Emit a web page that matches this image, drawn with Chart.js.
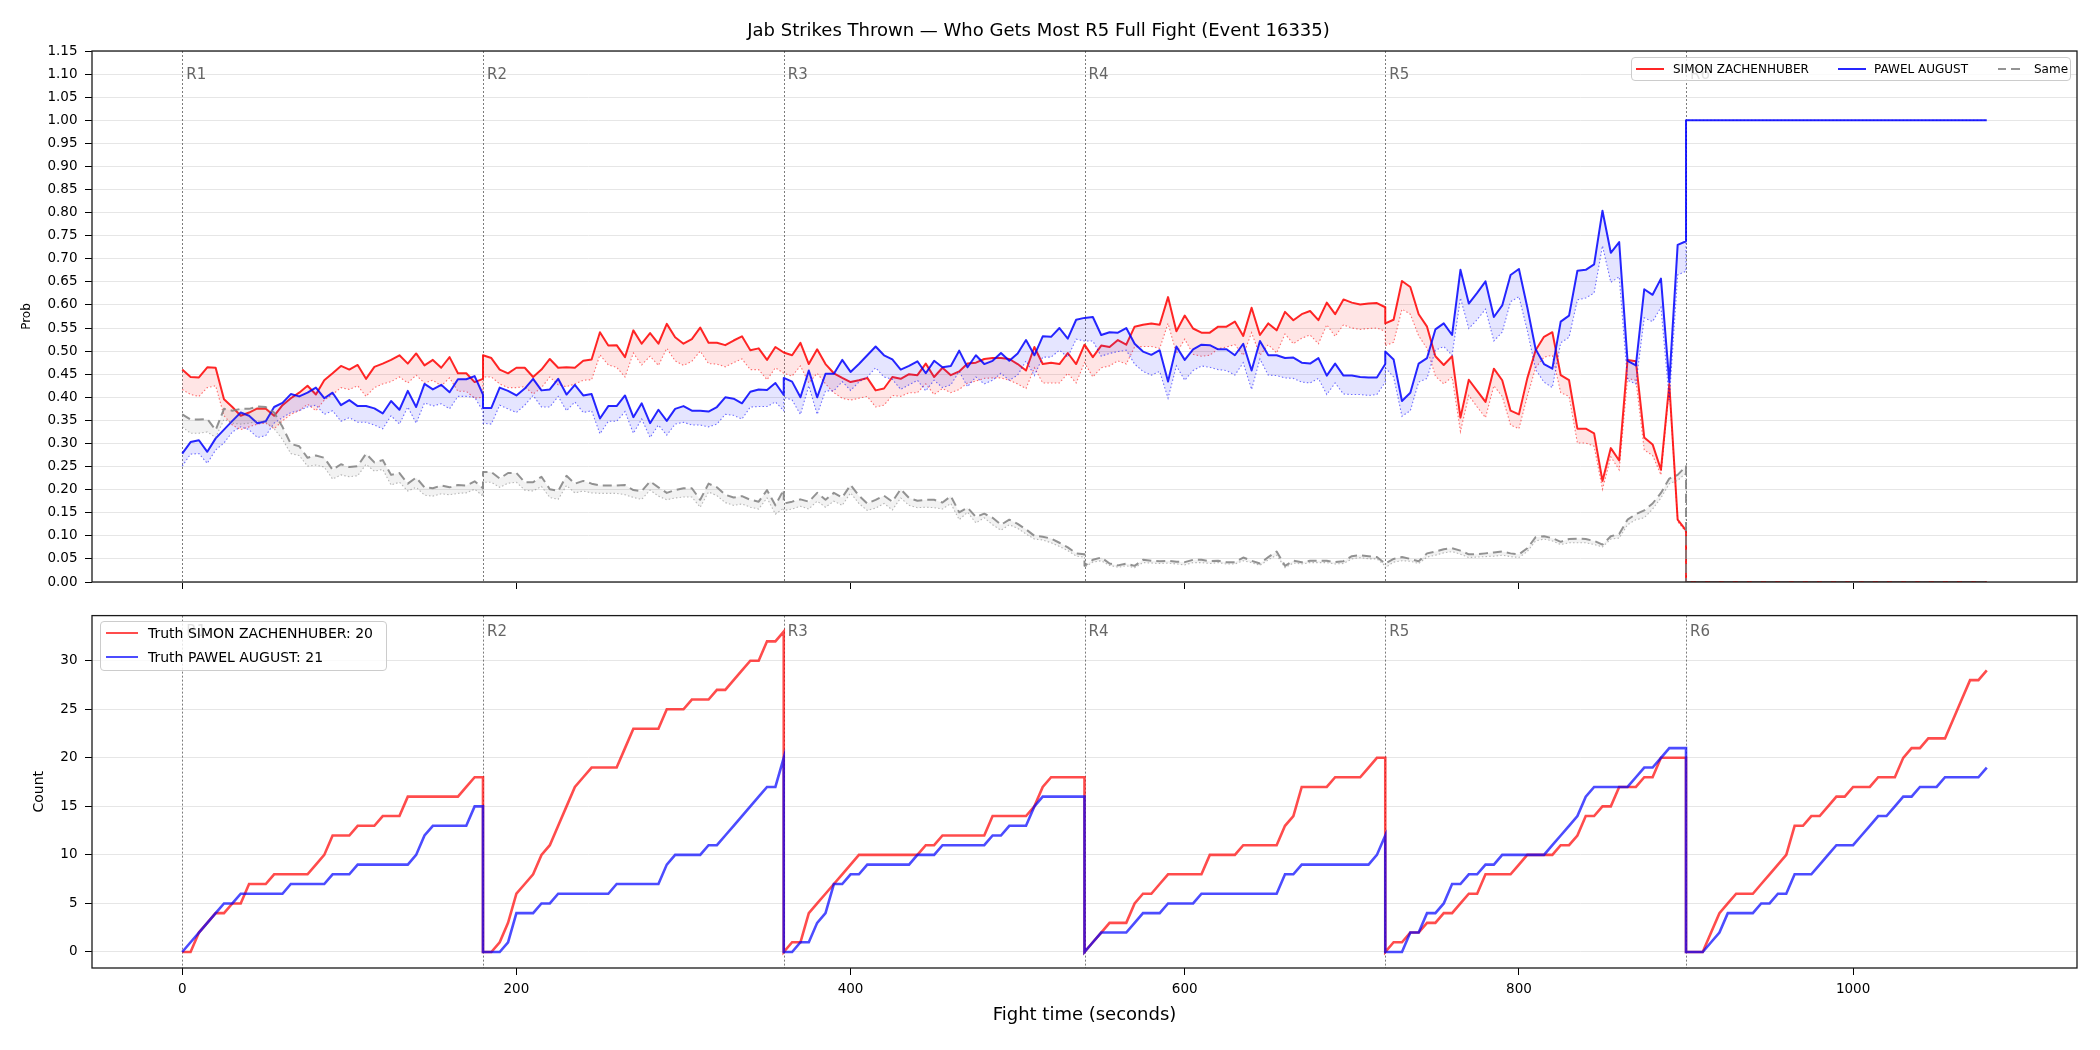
<!DOCTYPE html>
<html><head><meta charset="utf-8">
<script src="https://cdn.jsdelivr.net/npm/chart.js@4.4.1/dist/chart.umd.min.js"></script>
<style>
html,body{margin:0;padding:0;background:#fff;}
body{width:2100px;height:1050px;position:relative;overflow:hidden;font-family:'DejaVu Sans',sans-serif;}
#c1{position:absolute;left:0;top:0;}
#c2{position:absolute;left:0;top:600px;}
.leg{position:absolute;background:rgba(255,255,255,0.8);border:1px solid #cccccc;border-radius:4px;box-sizing:border-box;}
.leg .ln{position:absolute;height:0;}
.leg .tx{position:absolute;white-space:nowrap;color:#000;line-height:1;transform:translateY(-50%);}
</style></head>
<body>
<canvas id="c1" width="2100" height="600"></canvas>
<canvas id="c2" width="2100" height="450"></canvas>
<div id="leg1" class="leg"></div>
<div id="leg2" class="leg"></div>
<script>
// ---------------- DATA ----------------
const chartTitle = 'Jab Strikes Thrown \u2014 Who Gets Most R5 Full Fight (Event 16335)';
const fighterNames = ['SIMON ZACHENHUBER', 'PAWEL AUGUST'];
const sameName = 'Same';
const truthTotals = [20, 21];
const roundStarts = [0, 180, 360, 540, 720, 900];
const roundLabels = ['R1', 'R2', 'R3', 'R4', 'R5', 'R6'];
const xTickValues = [0, 200, 400, 600, 800, 1000];
const probTickValues = [0.00,0.05,0.10,0.15,0.20,0.25,0.30,0.35,0.40,0.45,0.50,0.55,0.60,0.65,0.70,0.75,0.80,0.85,0.90,0.95,1.00,1.05,1.10,1.15];
const countTickValues = [0, 5, 10, 15, 20, 25, 30];

const tR1 = [0,5,10,15,20,25,30,35,40,45,50,55,60,65,70,75,80,85,90,95,100,105,110,115,120,125,130,135,140,145,150,155,160,165,170,175,180];
const tR2 = [180,185,190,195,200,205,210,215,220,225,230,235,240,245,250,255,260,265,270,275,280,285,290,295,300,305,310,315,320,325,330,335,340,345,350,355,360];
const tR3 = [360,365,370,375,380,385,390,395,400,405,410,415,420,425,430,435,440,445,450,455,460,465,470,475,480,485,490,495,500,505,510,515,520,525,530,535,540];
const tR4 = [540,545,550,555,560,565,570,575,580,585,590,595,600,605,610,615,620,625,630,635,640,645,650,655,660,665,670,675,680,685,690,695,700,705,710,715,720];
const tR5 = [720,725,730,735,740,745,750,755,760,765,770,775,780,785,790,795,800,805,810,815,820,825,830,835,840,845,850,855,860,865,870,875,880,885,890,895,900];
const tR6 = [900,905,910,915,920,925,930,935,940,945,950,955,960,965,970,975,980,985,990,995,1000,1005,1010,1015,1020,1025,1030,1035,1040,1045,1050,1055,1060,1065,1070,1075,1080];
const probTime = [...tR1, ...tR2, ...tR3, ...tR4, ...tR5, 900, 1080];
const countTime = [...tR1, ...tR2, ...tR3, ...tR4, ...tR5, ...tR6];

const redProb = [
 .460,.444,.443,.465,.464,.396,.379,.360,.367,.376,.375,.360,.383,.398,.410,.425,.406,.437,.452,.468,.460,.470,.440,.466,.473,.481,.491,.473,.495,.469,.481,.464,.487,.452,.452,.433,.440,
 .491,.485,.460,.452,.464,.464,.444,.460,.483,.464,.465,.464,.479,.482,.541,.512,.513,.487,.545,.516,.539,.516,.559,.530,.516,.526,.551,.518,.518,.513,.523,.532,.502,.506,.481,.509,.497,
 .497,.491,.518,.472,.504,.472,.452,.442,.433,.437,.442,.415,.419,.444,.440,.450,.448,.473,.444,.464,.448,.456,.473,.475,.483,.485,.485,.483,.472,.458,.509,.472,.475,.472,.496,.472,.514,
 .514,.487,.512,.509,.524,.514,.553,.557,.560,.557,.617,.543,.577,.549,.540,.540,.553,.553,.564,.533,.594,.535,.560,.545,.585,.567,.580,.587,.567,.605,.580,.612,.605,.601,.603,.604,.595,
 .560,.568,.652,.639,.580,.553,.489,.470,.489,.356,.438,.414,.390,.462,.437,.371,.363,.441,.502,.531,.541,.448,.437,.332,.332,.322,.219,.290,.263,.481,.478,.313,.298,.243,.429,.135,.112,
 0, 0];
const redProbLow = [
 .417,.406,.402,.421,.425,.360,.340,.330,.336,.342,.344,.332,.349,.363,.371,.385,.371,.394,.406,.421,.417,.425,.402,.421,.429,.434,.444,.431,.448,.431,.437,.425,.442,.413,.413,.398,.400,
 .444,.444,.429,.421,.421,.423,.407,.421,.444,.427,.423,.429,.437,.438,.492,.470,.465,.444,.496,.470,.489,.469,.506,.479,.469,.478,.500,.473,.472,.466,.475,.483,.460,.460,.438,.464,.452,
 .452,.446,.468,.431,.452,.429,.410,.398,.394,.398,.402,.379,.383,.404,.402,.410,.410,.429,.406,.419,.410,.417,.431,.435,.441,.442,.442,.437,.429,.419,.464,.431,.431,.431,.452,.431,.475,
 .475,.444,.464,.468,.479,.472,.509,.510,.510,.506,.560,.495,.526,.493,.489,.491,.505,.509,.514,.491,.540,.491,.514,.496,.537,.516,.528,.535,.516,.557,.532,.557,.550,.547,.549,.550,.543,
 .512,.519,.591,.580,.533,.506,.446,.429,.444,.326,.404,.379,.356,.425,.402,.340,.332,.402,.464,.487,.491,.410,.402,.301,.301,.294,.201,.271,.243,.441,.437,.286,.274,.232,.421,.131,.108,
 0, 0];
const blueProb = [
 .278,.303,.307,.282,.311,.330,.349,.367,.360,.344,.348,.379,.388,.407,.402,.410,.421,.398,.410,.383,.394,.381,.381,.376,.365,.392,.373,.414,.379,.429,.417,.427,.411,.439,.439,.446,.406,
 .377,.377,.421,.414,.404,.419,.440,.415,.417,.440,.406,.427,.404,.407,.354,.381,.381,.404,.357,.387,.344,.373,.349,.375,.381,.371,.371,.369,.379,.400,.397,.387,.412,.417,.416,.431,.405,
 .442,.434,.400,.458,.400,.451,.451,.481,.455,.472,.491,.510,.491,.482,.460,.468,.478,.452,.479,.465,.468,.501,.465,.491,.472,.479,.496,.479,.495,.524,.491,.532,.531,.550,.527,.568,.572,
 .572,.574,.535,.541,.540,.550,.516,.499,.492,.502,.434,.510,.481,.504,.514,.513,.504,.504,.491,.516,.458,.522,.491,.491,.485,.486,.475,.473,.485,.447,.473,.447,.447,.444,.443,.443,.472,
 .499,.482,.392,.410,.473,.485,.547,.560,.535,.676,.603,.626,.651,.574,.599,.665,.678,.595,.504,.472,.462,.564,.577,.674,.676,.688,.804,.713,.736,.479,.469,.634,.622,.657,.433,.730,.738,
 1, 1];
const blueProbLow = [
 .251,.277,.278,.257,.286,.301,.325,.336,.330,.313,.317,.344,.356,.367,.371,.379,.383,.363,.371,.348,.356,.346,.346,.340,.332,.360,.342,.379,.344,.388,.381,.386,.375,.402,.402,.400,.370,
 .344,.342,.383,.375,.367,.383,.404,.379,.379,.402,.371,.390,.367,.371,.321,.348,.348,.369,.322,.353,.313,.340,.318,.342,.346,.340,.340,.336,.342,.363,.361,.353,.379,.380,.380,.390,.371,
 .400,.394,.363,.425,.363,.414,.414,.434,.415,.433,.444,.464,.444,.439,.417,.427,.437,.414,.437,.421,.427,.456,.423,.444,.429,.437,.452,.437,.448,.479,.447,.487,.487,.502,.487,.526,.522,
 .522,.522,.489,.495,.499,.502,.472,.456,.448,.456,.398,.468,.437,.458,.468,.465,.460,.458,.448,.475,.417,.483,.448,.447,.442,.441,.433,.431,.441,.406,.431,.407,.406,.406,.404,.406,.433,
 .464,.444,.359,.371,.433,.441,.502,.510,.491,.615,.549,.568,.591,.522,.541,.607,.618,.545,.460,.433,.421,.518,.530,.611,.615,.626,.728,.649,.661,.437,.429,.572,.564,.595,.394,.665,.673,
 1, 1];
const sameProb = [
 .363,.352,.352,.353,.329,.375,.371,.375,.375,.380,.379,.367,.336,.299,.294,.269,.274,.269,.243,.255,.249,.251,.278,.259,.264,.232,.236,.213,.226,.205,.203,.209,.205,.210,.209,.218,.203,
 .238,.238,.224,.236,.236,.216,.216,.228,.201,.197,.230,.213,.219,.213,.209,.209,.209,.210,.199,.197,.218,.205,.193,.199,.203,.203,.178,.213,.205,.189,.183,.186,.178,.174,.199,.166,.200,
 .170,.174,.179,.174,.193,.178,.193,.183,.210,.187,.170,.178,.187,.174,.201,.182,.176,.178,.178,.172,.186,.151,.161,.141,.148,.139,.124,.135,.126,.114,.100,.098,.094,.085,.075,.062,.060,
 .035,.048,.053,.040,.036,.040,.035,.048,.046,.045,.046,.044,.043,.048,.048,.045,.046,.043,.043,.053,.046,.040,.054,.066,.035,.046,.043,.046,.046,.046,.043,.045,.056,.058,.056,.054,.040,
 .040,.050,.054,.050,.045,.062,.066,.071,.073,.068,.060,.060,.062,.064,.066,.062,.060,.073,.097,.099,.095,.087,.093,.094,.093,.089,.081,.099,.104,.135,.147,.155,.170,.193,.224,.232,.251,
 0, 0];
const sameProbLow = [
 .336,.322,.322,.325,.313,.352,.344,.342,.344,.348,.346,.332,.309,.278,.274,.251,.253,.249,.223,.232,.228,.230,.255,.240,.244,.210,.216,.197,.205,.188,.186,.191,.189,.192,.193,.201,.186,
 .216,.216,.205,.214,.216,.199,.197,.207,.183,.179,.209,.193,.197,.193,.192,.192,.192,.189,.183,.179,.199,.186,.178,.182,.184,.184,.162,.195,.187,.172,.166,.169,.162,.158,.182,.147,.160,
 .155,.158,.164,.158,.175,.162,.175,.166,.193,.170,.155,.160,.170,.156,.182,.166,.161,.162,.161,.158,.170,.135,.151,.128,.139,.124,.112,.124,.116,.104,.093,.091,.085,.077,.068,.056,.054,
 .032,.043,.046,.036,.032,.035,.031,.042,.041,.040,.041,.039,.037,.042,.042,.040,.042,.039,.039,.046,.042,.036,.048,.058,.031,.041,.039,.042,.042,.042,.039,.040,.050,.053,.050,.050,.035,
 .031,.043,.046,.045,.040,.054,.058,.063,.066,.060,.053,.054,.055,.056,.058,.055,.053,.066,.089,.093,.089,.081,.085,.085,.085,.081,.076,.093,.095,.124,.135,.139,.158,.182,.213,.220,.236,
 0, 0];

const redCount = [
 0,0,2,3,4,4,5,5,7,7,7,8,8,8,8,8,9,10,12,12,12,13,13,13,14,14,14,16,16,16,16,16,16,16,17,18,18,
 0,0,1,3,6,7,8,10,11,13,15,17,18,19,19,19,19,21,23,23,23,23,25,25,25,26,26,26,27,27,28,29,30,30,32,32,33,
 0,1,1,4,5,6,7,8,9,10,10,10,10,10,10,10,10,11,11,12,12,12,12,12,12,14,14,14,14,14,15,17,18,18,18,18,18,
 0,1,2,3,3,3,5,6,6,7,8,8,8,8,8,10,10,10,10,11,11,11,11,11,13,14,17,17,17,17,18,18,18,18,19,20,20,
 0,1,1,2,2,3,3,4,4,5,6,6,8,8,8,8,9,10,10,10,10,11,11,12,14,14,15,15,17,17,17,18,18,20,20,20,20,
 0,0,0,2,4,5,6,6,6,7,8,9,10,13,13,14,14,15,16,16,17,17,17,18,18,18,20,21,21,22,22,22,24,26,28,28,29];
const blueCount = [
 0,1,2,3,4,5,5,6,6,6,6,6,6,7,7,7,7,7,8,8,8,9,9,9,9,9,9,9,10,12,13,13,13,13,13,15,15,
 0,0,0,1,4,4,4,5,5,6,6,6,6,6,6,6,7,7,7,7,7,7,9,10,10,10,10,11,11,12,13,14,15,16,17,17,20,
 0,0,1,1,3,4,7,7,8,8,9,9,9,9,9,9,10,10,10,11,11,11,11,11,11,12,12,13,13,13,15,16,16,16,16,16,16,
 0,1,2,2,2,2,3,4,4,4,5,5,5,5,6,6,6,6,6,6,6,6,6,6,8,8,9,9,9,9,9,9,9,9,9,10,12,
 0,0,0,2,2,4,4,5,7,7,8,8,9,9,10,10,10,10,10,10,11,12,13,14,16,17,17,17,17,17,18,19,19,20,21,21,21,
 0,0,0,1,2,4,4,4,4,5,5,6,6,8,8,8,9,10,11,11,11,12,13,14,14,15,16,16,17,17,17,18,18,18,18,18,19];

// ---------------- STYLE ----------------
const RED = 'rgba(255,0,0,0.85)', BLUE = 'rgba(0,0,255,0.85)', GRAY = 'rgba(128,128,128,0.85)';
const FONT = "'DejaVu Sans', sans-serif";
Chart.defaults.font.family = FONT;
Chart.defaults.color = '#000';

const pts = (xs, ys) => xs.map((t, i) => ({x: t, y: ys[i]}));

const roundPlugin = {
  id: 'rounds',
  beforeDatasetsDraw(chart, args, opts) {
    const {ctx, chartArea: a, scales: {x}} = chart;
    ctx.save();
    ctx.strokeStyle = 'rgba(80,80,80,0.75)';
    ctx.lineWidth = 1;
    ctx.setLineDash([2, 2]);
    roundStarts.forEach(t => {
      const px = Math.round(x.getPixelForValue(t)) + 0.5;
      ctx.beginPath(); ctx.moveTo(px, a.top); ctx.lineTo(px, a.bottom); ctx.stroke();
    });
    ctx.setLineDash([]);
    ctx.fillStyle = '#666666';
    ctx.font = '15px ' + FONT;
    ctx.textBaseline = 'middle';
    ctx.textAlign = 'left';
    roundStarts.forEach((t, i) => ctx.fillText(roundLabels[i], x.getPixelForValue(t) + 4, a.top + opts.labelOffset));
    ctx.restore();
  },
  afterDraw(chart) {
    const {ctx, chartArea: a} = chart;
    ctx.save();
    ctx.strokeStyle = '#1a1a1a';
    ctx.lineWidth = 1.3;
    ctx.strokeRect(a.left, a.top, a.right - a.left, a.bottom - a.top);
    ctx.restore();
  }
};

const mainLine = (label, data, color, order, dash) => ({
  label, data, borderColor: color, borderWidth: 2, pointRadius: 0, tension: 0, fill: false,
  borderDash: dash || [], order, borderJoinStyle: 'round'
});
const lowLine = (label, data, color, fillColor, order) => ({
  label, data, borderColor: color, borderWidth: 1.1, pointRadius: 0, tension: 0,
  borderDash: [1.5, 2.2], fill: '-1', backgroundColor: fillColor, order
});

new Chart(document.getElementById('c1'), {
  type: 'line',
  data: { datasets: [
    mainLine(fighterNames[0], pts(probTime, redProb), RED, 3),
    lowLine(fighterNames[0] + ' low', pts(probTime, redProbLow), 'rgba(255,0,0,0.55)', 'rgba(255,0,0,0.10)', 3),
    mainLine(fighterNames[1], pts(probTime, blueProb), BLUE, 2),
    lowLine(fighterNames[1] + ' low', pts(probTime, blueProbLow), 'rgba(0,0,255,0.55)', 'rgba(0,0,255,0.10)', 2),
    mainLine(sameName, pts(probTime, sameProb), GRAY, 1, [9, 5]),
    lowLine(sameName + ' low', pts(probTime, sameProbLow), 'rgba(128,128,128,0.55)', 'rgba(128,128,128,0.10)', 1)
  ]},
  options: {
    responsive: false, animation: false, devicePixelRatio: 1,
    layout: { padding: { left: 0, right: 23, top: 0, bottom: 8 } },
    plugins: {
      title: { display: true, text: chartTitle, color: '#000', font: { size: 18, weight: 'normal' }, padding: { top: 21, bottom: 8.4 } },
      legend: { display: false },
      tooltip: { enabled: false },
      rounds: { labelOffset: 24 }
    },
    scales: {
      x: {
        type: 'linear', min: -54, max: 1134,
        afterBuildTicks: s => { s.ticks = xTickValues.map(v => ({value: v})); },
        afterFit: s => { s.height = 10; },
        ticks: { display: false },
        grid: { drawOnChartArea: false, drawTicks: true, tickLength: 7, tickColor: '#000' },
        border: { display: false }
      },
      y: {
        type: 'linear', min: 0, max: 1.15,
        afterBuildTicks: s => { s.ticks = probTickValues.map(v => ({value: v})); },
        afterFit: s => { s.width = 92; },
        ticks: { callback: v => Number(v).toFixed(2), color: '#000', font: { size: 13.5 }, padding: 7.5 },
        grid: { color: '#e6e6e6', tickColor: '#000', tickLength: 7 },
        border: { display: false },
        title: { display: true, text: 'Prob', color: '#000', font: { size: 12 }, padding: { top: 20, bottom: 0 } }
      }
    }
  },
  plugins: [roundPlugin]
});

new Chart(document.getElementById('c2'), {
  type: 'line',
  data: { datasets: [
    { label: 'Truth ' + fighterNames[0] + ': ' + truthTotals[0], data: pts(countTime, redCount), borderColor: 'rgba(255,0,0,0.7)', borderWidth: 2.6, pointRadius: 0, tension: 0, fill: false, order: 2 },
    { label: 'Truth ' + fighterNames[1] + ': ' + truthTotals[1], data: pts(countTime, blueCount), borderColor: 'rgba(0,0,255,0.7)', borderWidth: 2.6, pointRadius: 0, tension: 0, fill: false, order: 1 }
  ]},
  options: {
    responsive: false, animation: false, devicePixelRatio: 1,
    layout: { padding: { left: 0, right: 23, top: 15, bottom: 12 } },
    plugins: { legend: { display: false }, tooltip: { enabled: false }, rounds: { labelOffset: 17 } },
    scales: {
      x: {
        type: 'linear', min: -54, max: 1134,
        afterBuildTicks: s => { s.ticks = xTickValues.map(v => ({value: v})); },
        afterFit: s => { s.height = 70; },
        ticks: { callback: v => String(v), color: '#000', font: { size: 13.5 }, padding: 6, maxRotation: 0 },
        grid: { drawOnChartArea: false, drawTicks: true, tickLength: 7, tickColor: '#000' },
        border: { display: false },
        title: { display: true, text: 'Fight time (seconds)', color: '#000', font: { size: 18 }, padding: { top: 0, bottom: 12 } }
      },
      y: {
        type: 'linear', min: -1.65, max: 34.65,
        afterBuildTicks: s => { s.ticks = countTickValues.map(v => ({value: v})); },
        afterFit: s => { s.width = 92; },
        ticks: { callback: v => String(v), color: '#000', font: { size: 13.5 }, padding: 7.5 },
        grid: { color: '#e6e6e6', tickColor: '#000', tickLength: 7 },
        border: { display: false },
        title: { display: true, text: 'Count', color: '#000', font: { size: 14 }, padding: { top: 31, bottom: 0 } }
      }
    }
  },
  plugins: [roundPlugin]
});

// ---------------- LEGENDS (HTML text) ----------------
function addLine(box, left, top, width, css) {
  const d = document.createElement('div');
  d.className = 'ln';
  d.style.cssText = `left:${left}px;top:${top}px;width:${width}px;` + css;
  box.appendChild(d);
}
function addText(box, left, top, text, size) {
  const d = document.createElement('div');
  d.className = 'tx';
  d.style.cssText = `left:${left}px;top:${top}px;font-size:${size}px;`;
  d.textContent = text;
  box.appendChild(d);
}
const leg1 = document.getElementById('leg1');
leg1.style.cssText = 'left:1631px;top:57px;width:440px;height:24px;';
addLine(leg1, 4, 10, 28, 'border-top:2px solid ' + RED + ';');
addText(leg1, 41, 11, fighterNames[0], 12);
addLine(leg1, 206, 10, 28, 'border-top:2px solid ' + BLUE + ';');
addText(leg1, 242, 11, fighterNames[1], 12);
addLine(leg1, 366, 10, 22, 'height:2px;background:linear-gradient(to right,' + GRAY + ' 0 8px,transparent 8px 13px,' + GRAY + ' 13px 22px);');
addText(leg1, 402, 11, sameName, 12);

const leg2 = document.getElementById('leg2');
leg2.style.cssText = 'left:100px;top:621px;width:287px;height:50px;';
addLine(leg2, 5, 10, 32, 'border-top:2.6px solid rgba(255,0,0,0.7);');
addText(leg2, 47, 11, 'Truth ' + fighterNames[0] + ': ' + truthTotals[0], 14);
addLine(leg2, 5, 34, 32, 'border-top:2.6px solid rgba(0,0,255,0.7);');
addText(leg2, 47, 35, 'Truth ' + fighterNames[1] + ': ' + truthTotals[1], 14);
</script>
</body></html>
